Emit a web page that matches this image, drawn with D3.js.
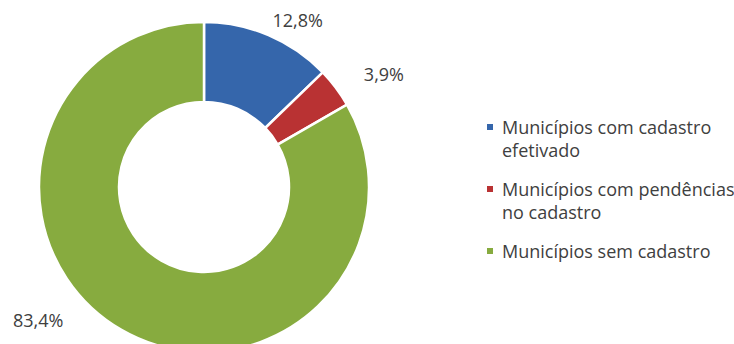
<!DOCTYPE html>
<html>
<head>
<meta charset="utf-8">
<script src="https://cdn.jsdelivr.net/npm/d3@7/dist/d3.min.js"></script>
<style>
  html, body { margin: 0; padding: 0; background: #ffffff; }
  svg { display: block; }
  text { font-family: "Open Sans", "Liberation Sans", sans-serif; fill: #404040; }
</style>
</head>
<body>
<svg id="chart" width="734" height="344"></svg>
<script>
// Situação do cadastro dos municípios (%)
const categories = [
  "Municípios com cadastro efetivado",
  "Municípios com pendências no cadastro",
  "Municípios sem cadastro"
];
const values = [12.8, 3.9, 83.4];
const valueLabels = ["12,8%", "3,9%", "83,4%"];
const colors = ["#3566ab", "#b93233", "#87ab3f"];

const svg = d3.select("#chart");
const width = 734, height = 344;

const cx = 204, cy = 187;
const outerR = 165, innerR = 85;

const color = d3.scaleOrdinal().domain(categories).range(colors);

const pie = d3.pie().sort(null).value(d => d.value);
const arcs = pie(categories.map((c, i) => ({ name: c, value: values[i], label: valueLabels[i] })));

const arc = d3.arc().innerRadius(innerR).outerRadius(outerR);

const g = svg.append("g").attr("transform", `translate(${cx},${cy})`);

g.selectAll("path.slice")
  .data(arcs)
  .join("path")
  .attr("class", "slice")
  .attr("d", arc)
  .attr("fill", d => color(d.data.name))
  .attr("stroke", "#ffffff")
  .attr("stroke-width", 2.5)
  .attr("stroke-linejoin", "miter");

// Data labels sit just outside the ring at each slice's middle angle,
// nudged the way the spreadsheet "best fit" placement puts them.
const labelArc = d3.arc().innerRadius(outerR + 10).outerRadius(outerR + 10);
const labelNudge = [
  { dx: 0, dy: 1, anchor: "start" },
  { dx: 20, dy: -1, anchor: "start" },
  { dx: -53, dy: -12, anchor: "end" }
];

g.selectAll("text.value")
  .data(arcs)
  .join("text")
  .attr("class", "value")
  .attr("x", (d, i) => labelArc.centroid(d)[0] + labelNudge[i].dx)
  .attr("y", (d, i) => labelArc.centroid(d)[1] + labelNudge[i].dy)
  .attr("text-anchor", (d, i) => labelNudge[i].anchor)
  .style("font-size", "18px")
  .text(d => d.data.label);

// Legend with wrapped entries
const legendX = 487, legendTop = 134;
const lineH = 23, itemGap = 16, maxTextW = 240;
const legend = svg.append("g");

let y = legendTop;
categories.forEach((name, i) => {
  const item = legend.append("g");
  const t = item.append("text")
    .attr("x", legendX + 15)
    .attr("y", y)
    .style("font-size", "18px");

  const words = name.split(" ");
  let line = [];
  let tspan = t.append("tspan").attr("x", legendX + 15).attr("y", y);
  let lines = 1;
  words.forEach(w => {
    line.push(w);
    tspan.text(line.join(" "));
    if (tspan.node().getComputedTextLength() > maxTextW && line.length > 1) {
      line.pop();
      tspan.text(line.join(" "));
      line = [w];
      tspan = t.append("tspan")
        .attr("x", legendX + 15)
        .attr("y", y + lines * lineH)
        .text(w);
      lines += 1;
    }
  });

  item.append("rect")
    .attr("x", legendX)
    .attr("y", y - 10)
    .attr("width", 6)
    .attr("height", 6)
    .attr("fill", colors[i]);

  y += lines * lineH + itemGap;
});
</script>
</body>
</html>
